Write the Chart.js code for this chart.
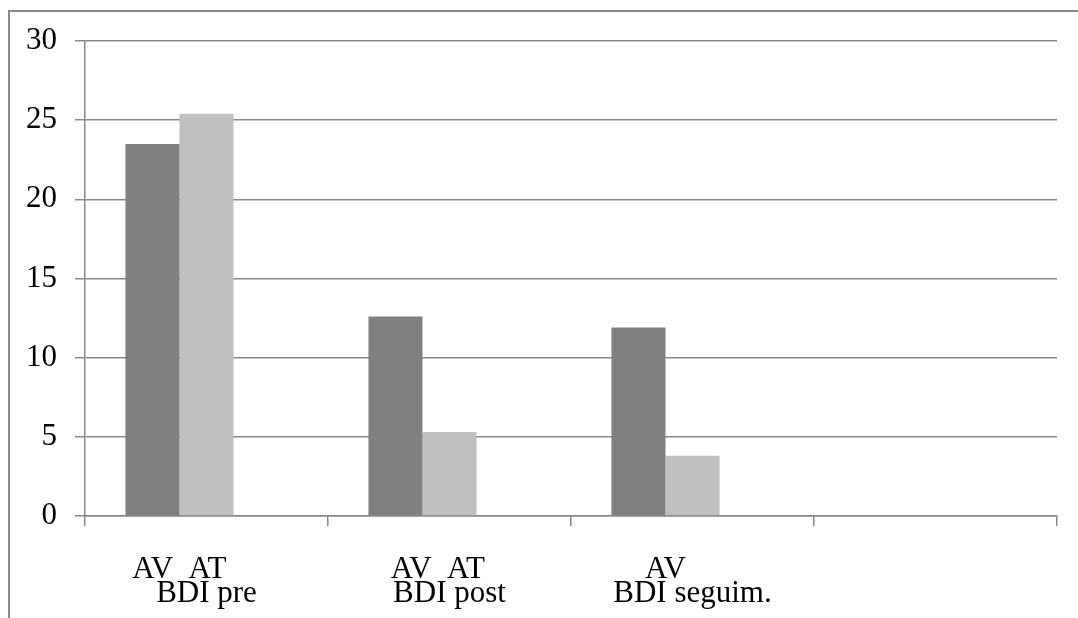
<!DOCTYPE html>
<html>
<head>
<meta charset="utf-8">
<script src="https://cdn.jsdelivr.net/npm/chart.js@4"></script>
<style>
  html, body { margin: 0; padding: 0; background: #fff; }
  #wrap { position: relative; width: 1078px; height: 618px; overflow: hidden; }
  #frame { position: absolute; left: 8px; top: 10px; right: -4px; bottom: -4px;
           border-top: 2px solid #8a8a8a; border-left: 2px solid #8a8a8a; pointer-events: none; }
  canvas { position: absolute; left: 0; top: 0; }
</style>
</head>
<body>
<div id="wrap">
  <canvas id="c" width="1078" height="618"></canvas>
  <div id="frame"></div>
</div>
<script>
// Category labels (two lines each: series tags, then the measurement)
const NB = '\u00A0';
const categories = [
  ['AV' + NB + NB + 'AT' + NB.repeat(7), 'BDI pre'],
  ['AV' + NB + NB + 'AT' + NB.repeat(3), 'BDI post'],
  ['AV' + NB.repeat(7), 'BDI seguim.'],
  ['', '']
];
const seriesNames = ['AV', 'AT', 'Serie 3'];
const avValues = [23.5, 12.6, 11.9, null];
const atValues = [25.4, 5.3, 3.8, null];
const thirdValues = [null, null, null, null];
const yTicks = { min: 0, max: 30, step: 5 };

const serif = "'Liberation Serif', 'Times New Roman', serif";
const gridColor = '#888888';

new Chart(document.getElementById('c'), {
  type: 'bar',
  data: {
    labels: categories,
    datasets: [
      { label: seriesNames[0], data: avValues, backgroundColor: '#808080', borderWidth: 0 },
      { label: seriesNames[1], data: atValues, backgroundColor: '#c0c0c0', borderWidth: 0 },
      { label: seriesNames[2], data: thirdValues, backgroundColor: '#a0a0a0', borderWidth: 0 }
    ]
  },
  options: {
    responsive: false,
    animation: false,
    events: [],
    layout: { padding: { top: 41, right: 21, left: 0, bottom: 0 } },
    plugins: { legend: { display: false }, tooltip: { enabled: false } },
    datasets: { bar: { categoryPercentage: 0.667, barPercentage: 1.0 } },
    scales: {
      x: {
        grid: { offset: true, drawOnChartArea: false, drawTicks: true, tickLength: 10,
                color: gridColor, lineWidth: 1.5 },
        border: { display: true, color: gridColor, width: 1.5 },
        ticks: {
          color: '#000',
          font: { family: serif, size: 31, lineHeight: 0.8 },
          padding: 31,
          maxRotation: 0, minRotation: 0, autoSkip: false
        },
        afterFit: (s) => { s.height = 102; }
      },
      y: {
        min: yTicks.min, max: yTicks.max,
        grid: { color: gridColor, lineWidth: 1.5, drawTicks: true, tickLength: 10 },
        border: { display: true, color: gridColor, width: 1.5 },
        ticks: {
          stepSize: yTicks.step, color: '#000', padding: 18,
          font: { family: serif, size: 31 }
        },
        afterFit: (s) => { s.width = 85; }
      }
    }
  }
});
</script>
</body>
</html>
